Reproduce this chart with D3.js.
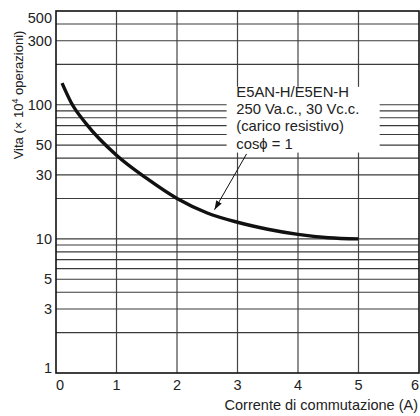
<!DOCTYPE html>
<html>
<head>
<meta charset="utf-8">
<script src="https://cdn.jsdelivr.net/npm/d3@7"></script>
<style>
  body { margin: 0; background: #fff; }
  svg { display: block; font-family: "Liberation Sans", Arial, Helvetica, sans-serif; }
</style>
</head>
<body>
<div id="chart"></div>
<script>
// curve: switching current (A) vs life (x 10^4 operations)
const current = [0.1, 0.25, 0.5, 1, 1.5, 2, 2.5, 3, 3.5, 4, 4.5, 5];
const life = [145, 104, 72, 42, 28.2, 20, 15.6, 13.3, 11.8, 10.8, 10.2, 10];

const xTicks = [0, 1, 2, 3, 4, 5, 6];
const yTicks = [1, 3, 5, 10, 30, 50, 100, 300, 500];
const yGrid = [2, 3, 4, 5, 6, 7, 8, 9, 10, 20, 30, 40, 50, 60, 70, 80, 90, 100, 200, 300, 400];

const noteLines = ['E5AN-H/E5EN-H', '250 Va.c., 30 Vc.c.', '(carico resistivo)', 'cosϕ = 1'];
const arrowFrom = [3.15, 43];
const arrowTo = [2.62, 16.5];

const width = 420, height = 416;
const margin = { top: 11, right: 1, bottom: 43, left: 56 };

const svg = d3.select('#chart')
  .append('svg')
  .attr('width', width)
  .attr('height', height);

const x = d3.scaleLinear()
  .domain([0, 6])
  .range([margin.left, width - margin.right]);

const y = d3.scaleLog()
  .domain([1, 500])
  .range([height - margin.bottom, margin.top]);

// grid
svg.append('g')
  .selectAll('line')
  .data(xTicks.slice(1, -1))
  .enter()
  .append('line')
  .attr('x1', d => x(d)).attr('x2', d => x(d))
  .attr('y1', y(1)).attr('y2', y(500))
  .attr('stroke', '#444')
  .attr('stroke-width', 1.2);

svg.append('g')
  .selectAll('line')
  .data(yGrid)
  .enter()
  .append('line')
  .attr('x1', x(0)).attr('x2', x(6))
  .attr('y1', d => y(d)).attr('y2', d => y(d))
  .attr('stroke', '#3a3a3a')
  .attr('stroke-width', 1.2);

// note box hides the grid behind it
const bx0 = x(2.82), bx1 = x(5.35), by0 = y(136), by1 = y(44);
svg.append('rect')
  .attr('x', bx0).attr('y', by0)
  .attr('width', bx1 - bx0).attr('height', by1 - by0)
  .attr('fill', '#fff');

svg.append('text')
  .attr('x', x(2.98))
  .attr('y', y(136) + 10)
  .attr('font-size', 14.8)
  .attr('fill', '#222')
  .selectAll('tspan')
  .data(noteLines)
  .enter()
  .append('tspan')
  .attr('x', x(2.98))
  .attr('dy', (d, i) => i === 0 ? 0 : 17.3)
  .text(d => d);

// border
svg.append('rect')
  .attr('x', x(0)).attr('y', y(500))
  .attr('width', x(6) - x(0)).attr('height', y(1) - y(500))
  .attr('fill', 'none')
  .attr('stroke', '#111')
  .attr('stroke-width', 1.6);

// curve
const line = d3.line()
  .x((d, i) => x(current[i]))
  .y(d => y(d))
  .curve(d3.curveMonotoneX);

svg.append('path')
  .datum(life)
  .attr('d', line)
  .attr('fill', 'none')
  .attr('stroke', '#111')
  .attr('stroke-width', 3.4);

// arrow
svg.append('defs')
  .append('marker')
  .attr('id', 'head')
  .attr('viewBox', '0 0 10 10')
  .attr('refX', 10).attr('refY', 5)
  .attr('markerWidth', 9).attr('markerHeight', 9)
  .attr('markerUnits', 'userSpaceOnUse')
  .attr('orient', 'auto')
  .append('path')
  .attr('d', 'M0,1.5L10,5L0,8.5Z')
  .attr('fill', '#111');

svg.append('line')
  .attr('x1', x(arrowFrom[0])).attr('y1', y(arrowFrom[1]))
  .attr('x2', x(arrowTo[0])).attr('y2', y(arrowTo[1]))
  .attr('stroke', '#111')
  .attr('stroke-width', 1)
  .attr('marker-end', 'url(#head)');

// tick labels
svg.append('g')
  .selectAll('text')
  .data(xTicks)
  .enter()
  .append('text')
  .attr('x', d => x(d) + (d === 0 ? 4 : d === 6 ? -4 : 0))
  .attr('y', y(1) + 17)
  .attr('text-anchor', 'middle')
  .attr('font-size', 14.5)
  .attr('fill', '#222')
  .text(d => d);

svg.append('g')
  .selectAll('text')
  .data(yTicks)
  .enter()
  .append('text')
  .attr('x', x(0) - 4)
  .attr('y', d => y(d) + (d === 500 ? 12 : d === 1 ? 0 : 5))
  .attr('text-anchor', 'end')
  .attr('font-size', 14.5)
  .attr('fill', '#222')
  .text(d => d);

// axis titles
svg.append('text')
  .attr('x', width - 2)
  .attr('y', height - 6)
  .attr('text-anchor', 'end')
  .attr('font-size', 14.5)
  .attr('fill', '#222')
  .text('Corrente di commutazione (A)');

const yt = svg.append('text')
  .attr('transform', `translate(23,${(y(1) + y(500)) / 2 - 97}) rotate(-90)`)
  .attr('text-anchor', 'middle')
  .attr('font-size', 13)
  .attr('fill', '#222');
yt.append('tspan').text('Vita (× 10');
yt.append('tspan').attr('font-size', 9).attr('dy', -5).text('4');
yt.append('tspan').attr('dy', 5).text(' operazioni)');
</script>
</body>
</html>
